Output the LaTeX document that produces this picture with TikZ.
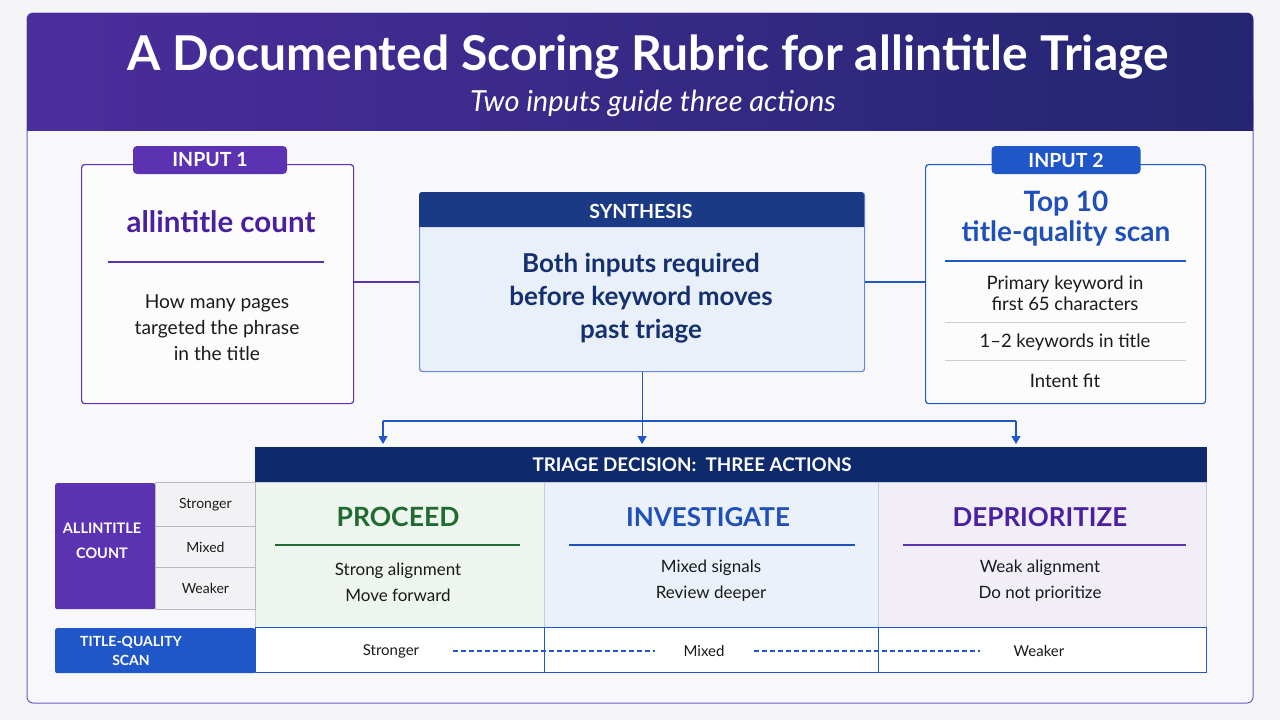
\documentclass[tikz,border=0pt]{standalone}
\usepackage{fontspec}
\setmainfont{Lato}
\usetikzlibrary{arrows.meta,calc}
\definecolor{bg}{HTML}{F5F5F8}
\definecolor{panel}{HTML}{F8F8FB}
\definecolor{hdrL}{HTML}{4B2D9C}
\definecolor{hdrR}{HTML}{232570}
\definecolor{purp}{HTML}{5B33B2}
\definecolor{purptxt}{HTML}{4A1FA0}
\definecolor{blu}{HTML}{1F56C8}
\definecolor{blutxt}{HTML}{1F4FB8}
\definecolor{navy}{HTML}{1A3A86}
\definecolor{navytxt}{HTML}{14306E}
\definecolor{navyhd}{HTML}{0E2A6C}
\definecolor{synfill}{HTML}{EAF0FA}
\definecolor{grn}{HTML}{1F6B30}
\definecolor{grnfill}{HTML}{EEF5EE}
\definecolor{blufill}{HTML}{EBF1FA}
\definecolor{lavfill}{HTML}{F1EEF8}
\definecolor{rowfill}{HTML}{F2F2F5}
\definecolor{rowline}{HTML}{B9B9BF}
\definecolor{sepline}{HTML}{C4CCE0}
\definecolor{txt}{HTML}{1A1A1A}
\definecolor{frame}{HTML}{6E5CC4}
\tikzset{
  fs/.style 2 args={font=\fontsize{#1}{#2}\selectfont},
  bfs/.style 2 args={font=\fontsize{#1}{#2}\selectfont\bfseries},
  cellbox/.style={draw=#1, line width=0.8pt, anchor=north west, inner sep=0pt},
  tab/.style={fill=#1, rounded corners=4pt, text=white, inner sep=0pt, minimum height=28pt},
  arr/.style={draw=blu, line width=1.2pt, -{Triangle[length=8pt,width=9pt]}},
  dsh/.style={draw=blu, line width=1.1pt, dash pattern=on 5pt off 3pt},
}
\begin{document}
\begin{tikzpicture}[x=1pt,y=-1pt]
\useasboundingbox (0,0) rectangle (1280,720);
\fill[bg] (0,0) rectangle (1280,720);
% frame
\draw[frame, line width=1pt, fill=panel, rounded corners=6pt] (27,13) rectangle (1253,703);
% header
\shade[left color=hdrL, right color=hdrR, rounded corners=6pt] (27,13) rectangle (1253,130);
\shade[left color=hdrL, right color=hdrR] (27,100) rectangle (1253,130);
\node[bfs={48}{56}, text=white] (title) at (648,57) {A Documented Scoring Rubric for allintitle Triage};
\node[font=\fontsize{29}{34}\selectfont\itshape, text=white] (sub) at (653,103) {Two inputs guide three actions};

% input 1
\node[draw=purp, line width=1.2pt, fill=white!60!panel, rounded corners=3pt, minimum width=272pt, minimum height=239pt, anchor=north west] (in1) at (81,164) {};
\node[tab=purp, minimum width=154pt, bfs={19.5}{23}] (tab1) at (210,160) {INPUT 1};
\node[bfs={29.5}{34}, text=purptxt] (in1t) at (221,222) {allintitle count};
\draw[purp, line width=1.2pt] (108,262) -- (324,262);
\node[fs={19.2}{26}, text=txt, align=center] (in1b) at (217,328) {How many pages\\targeted the phrase\\in the title};

% synthesis
\node[draw=blu!70, line width=1.2pt, fill=synfill, rounded corners=3pt, minimum width=445pt, minimum height=179pt, anchor=north west] (syn) at (419,192) {};
\fill[navy, rounded corners=3pt] (419,192) rectangle (864,227);
\fill[navy] (419,215) rectangle (864,227);
\node[bfs={19.5}{23}, text=white] (synh) at (641,211) {SYNTHESIS};
\node[bfs={26}{33}, text=navytxt, align=center] (synb) at (641,298) {Both inputs required\\before keyword moves\\past triage};

% input 2
\node[draw=blu, line width=1.2pt, fill=white!60!panel, rounded corners=3pt, minimum width=280pt, minimum height=239pt, anchor=north west] (in2) at (925,164) {};
\node[tab=blu, minimum width=149pt, bfs={19.5}{23}] (tab2) at (1066,160) {INPUT 2};
\node[bfs={28}{30}, text=blutxt, align=center] (in2t) at (1066,219) {Top 10\\title-quality scan};
\draw[blu, line width=1.2pt] (945,261) -- (1186,261);
\node[fs={18.5}{21}, text=txt, align=center] (in2a) at (1065,293) {Primary keyword in\\first 65 characters};
\draw[rowline!70, line width=0.8pt] (945,322) -- (1186,322);
\node[fs={18.5}{21}, text=txt] (in2b) at (1065,342) {1–2 keywords in title};
\draw[rowline!70, line width=0.8pt] (945,360) -- (1186,360);
\node[fs={18.5}{21}, text=txt] (in2c) at (1065,381) {Intent fit};

% connectors input -> synthesis
\draw[purp, line width=1.4pt] (in1.east |- syn.west) -- (syn.west);
\draw[blu, line width=1.4pt] (syn.east) -- (in2.west |- syn.east);

% triage table
\node[cellbox=navyhd, fill=navyhd, minimum width=951pt, minimum height=35pt] (thead) at (255,447) {};
\node[bfs={18.8}{22}, text=white] (theadt) at (692,465) {TRIAGE DECISION:\ \ THREE ACTIONS};
\node[cellbox=sepline, fill=grnfill, minimum width=289pt, minimum height=145pt] (cp) at (255,482) {};
\node[cellbox=sepline, fill=blufill, minimum width=334pt, minimum height=145pt] (ci) at (544,482) {};
\node[cellbox=sepline, fill=lavfill, minimum width=328pt, minimum height=145pt] (cd) at (878,482) {};
\node[cellbox=blu, fill=white, minimum width=289pt, minimum height=45pt] (bp) at (255,627) {};
\node[cellbox=blu, fill=white, minimum width=334pt, minimum height=45pt] (bi) at (544,627) {};
\node[cellbox=blu, fill=white, minimum width=328pt, minimum height=45pt] (bd) at (878,627) {};

\node[bfs={26.5}{31}, text=grn] (pt) at (398,517) {PROCEED};
\draw[grn, line width=1.2pt] (275,545) -- (520,545);
\node[fs={17}{26}, text=txt, align=center] (pb) at (398,582) {Strong alignment\\Move forward};
\node[bfs={26}{31}, text=blutxt] (it) at (708,517) {INVESTIGATE};
\draw[blutxt, line width=1.2pt] (569,545) -- (855,545);
\node[fs={17}{26}, text=txt, align=center] (ib) at (711,581) {Mixed signals\\Review deeper};
\node[bfs={26}{31}, text=purptxt] (dt) at (1040,517) {DEPRIORITIZE};
\draw[purp, line width=1.2pt] (903,545) -- (1186,545);
\node[fs={17}{26}, text=txt, align=center] (db) at (1040,581) {Weak alignment\\Do not prioritize};

% allintitle count block
\node[anchor=north west, fill=purp, rounded corners=2pt, minimum width=100pt, minimum height=126pt, inner sep=0pt] (ac) at (55,483) {};
\node[bfs={14.5}{25}, text=white, align=center] (act) at (102,541) {ALLINTITLE\\COUNT};
\node[cellbox=rowline, fill=rowfill, minimum width=100pt, minimum height=44pt] (r1) at (155,482) {};
\node[cellbox=rowline, fill=rowfill, minimum width=100pt, minimum height=41pt] (r2) at (155,526) {};
\node[cellbox=rowline, fill=rowfill, minimum width=100pt, minimum height=42pt] (r3) at (155,567) {};
\node[fs={14}{17}, text=txt] at (r1.center) {Stronger};
\node[fs={14}{17}, text=txt] at (r2.center) {Mixed};
\node[fs={14}{17}, text=txt] at (r3.center) {Weaker};

% title-quality scan block
\node[anchor=north west, fill=blu, rounded corners=2pt, minimum width=200pt, minimum height=45pt, inner sep=0pt] (tq) at (55,628) {};
\node[bfs={14}{19}, text=white, align=center] (tqt) at (131,651) {TITLE-QUALITY\\SCAN};

% bottom row labels and dashes
\node[fs={15}{18}, text=txt] (ls) at (391,651) {Stronger};
\node[fs={15}{18}, text=txt] (lm) at (704,651) {Mixed};
\node[fs={15}{18}, text=txt] (lw) at (1039,651) {Weaker};
\draw[dsh] ([xshift=30pt]ls.east) -- ([xshift=-25pt]lm.west);
\draw[dsh] ([xshift=26pt]lm.east) -- ([xshift=-30pt]lw.west);

% arrows synthesis -> triage
\coordinate (bl) at (383,421);
\coordinate (br) at (1016,421);
\draw[blu, line width=1.2pt] (bl) -- (br);
\draw[arr, shorten >=3pt] (syn.south) -- (syn.south |- thead.north);
\draw[arr, shorten >=3pt] (bl) -- (bl |- thead.north);
\draw[arr, shorten >=3pt] (br) -- (br |- thead.north);
\end{tikzpicture}
\end{document}
